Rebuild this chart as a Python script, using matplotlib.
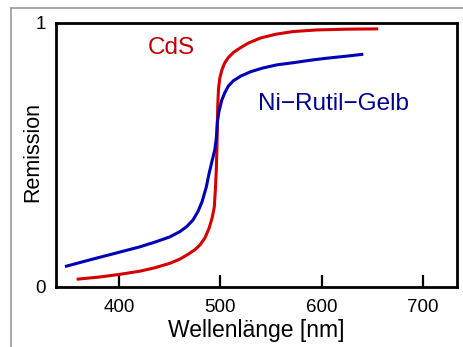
import matplotlib
matplotlib.use("Agg")
import matplotlib.pyplot as plt
from matplotlib.lines import Line2D

plt.rcParams['font.family'] = ['Liberation Sans', 'DejaVu Sans']

# values
cds_wl = [358.3, 380, 400, 420, 435, 450, 460, 468, 475, 480, 485, 489, 492,
          494, 495, 496, 496.6, 497, 497.4, 498.2, 499.5, 501.5, 504, 508, 513,
          520, 528, 540, 555, 572, 595, 625, 655.7]
cds_rem = [0.028, 0.036, 0.046, 0.058, 0.071, 0.088, 0.104, 0.122, 0.140, 0.158,
           0.186, 0.222, 0.262, 0.30, 0.36, 0.44, 0.52, 0.60, 0.68, 0.75, 0.79,
           0.82, 0.845, 0.868, 0.887, 0.905, 0.923, 0.942, 0.956, 0.966, 0.972,
           0.975, 0.976]

ni_wl = [346.8, 370, 400, 420, 435, 450, 460, 467, 473, 478, 482, 486, 489,
         491.5, 494.6, 496, 497, 498.5, 501.3, 504.5, 508, 513, 520, 530, 542,
         556, 572, 590, 605, 625, 641]
ni_rem = [0.076, 0.100, 0.130, 0.150, 0.168, 0.188, 0.208, 0.228, 0.252, 0.285,
          0.322, 0.375, 0.43, 0.47, 0.52, 0.56, 0.62, 0.66, 0.705, 0.735, 0.76,
          0.78, 0.797, 0.814, 0.828, 0.840, 0.848, 0.858, 0.865, 0.873, 0.880]

xticks = [400, 500, 600, 700]

fig = plt.figure(figsize=(4.64, 3.47), dpi=100)
ax = fig.add_axes([0.120, 0.174, 0.864, 0.761])

ax.plot(cds_wl, cds_rem, color='#d40000', lw=2.2, solid_joinstyle='round', solid_capstyle='butt')
ax.plot(ni_wl, ni_rem, color='#0000b4', lw=2.2, solid_joinstyle='round', solid_capstyle='butt')

ax.text(428.9, 0.880, 'CdS', color='#c00000', fontsize=17.5, ha='left', va='baseline')
ax.text(537.3, 0.667, 'Ni\u2212Rutil\u2212Gelb', color='#00008c', fontsize=17.5, ha='left', va='baseline')

ax.set_xlim(337.6, 733)
ax.set_ylim(0, 1)
ax.set_xticks(xticks)
ax.set_xticklabels([str(t) for t in xticks], fontsize=13.5)
ax.set_yticks([0, 1])
ax.set_yticklabels(['0', '1'], fontsize=13.5)
ax.tick_params(axis='x', direction='in', length=8.6, width=1.6, pad=9)
ax.tick_params(axis='y', length=0, pad=7)

for s in ax.spines.values():
    s.set_linewidth(2.0)

ax.set_xlabel('Wellenlänge [nm]', fontsize=16.5, labelpad=2)
ax.set_ylabel('Remission', fontsize=15.5)
ax.yaxis.set_label_coords(-0.03, 0.51)

# grey frame lines at top and left of the picture
fig.add_artist(Line2D([0.0237, 1.0], [0.977, 0.977], color='#999999', lw=1.2))
fig.add_artist(Line2D([0.0237, 0.0237], [0.0, 0.977], color='#999999', lw=1.2))

fig.savefig('out.png', dpi=100)
